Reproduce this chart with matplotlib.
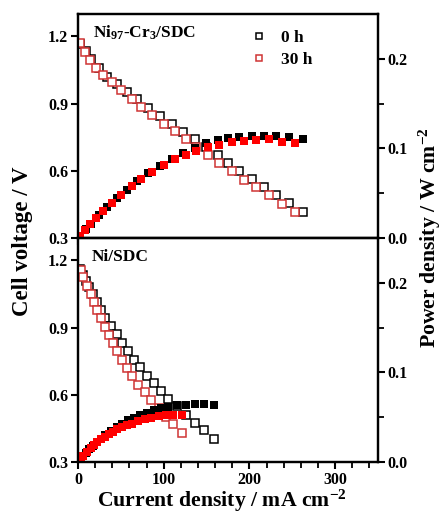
import matplotlib.pyplot as plt
import matplotlib.ticker as ticker

# Ni97-Cr3/SDC, 0 h
nicr_i_0h = [2.3, 9.3, 14.7, 24.0, 34.1, 45.7, 56.6, 69.0, 81.8, 95.3, 109.7, 122.4,
             136.0, 149.6, 163.1, 175.5, 188.0, 202.7, 216.7, 230.5, 246.5, 262.8]
nicr_v_0h = [1.168, 1.133, 1.098, 1.058, 1.020, 0.986, 0.953, 0.919, 0.881, 0.844, 0.807, 0.774,
             0.740, 0.705, 0.669, 0.633, 0.598, 0.563, 0.526, 0.493, 0.455, 0.418]
nicr_p_0h = [0.0027, 0.0105, 0.0161, 0.0254, 0.0348, 0.0451, 0.0539, 0.0634, 0.0721, 0.0804, 0.0885, 0.0947,
             0.1006, 0.1055, 0.1091, 0.1111, 0.1124, 0.1141, 0.1140, 0.1136, 0.1122, 0.1099]
# Ni97-Cr3/SDC, 30 h
nicr_i_30h = [2.3, 8.1, 14.3, 21.0, 29.5, 39.1, 49.6, 62.4, 74.0, 86.4, 100.0, 112.8,
              125.6, 138.0, 151.5, 164.3, 179.4, 193.4, 207.8, 223.3, 237.6, 253.1]
nicr_v_30h = [1.170, 1.130, 1.095, 1.060, 1.029, 0.995, 0.959, 0.922, 0.886, 0.849, 0.810, 0.777,
              0.741, 0.707, 0.671, 0.635, 0.597, 0.560, 0.526, 0.493, 0.452, 0.417]
nicr_p_30h = [0.0027, 0.0092, 0.0157, 0.0223, 0.0304, 0.0389, 0.0476, 0.0575, 0.0656, 0.0734, 0.0810, 0.0876,
              0.0931, 0.0976, 0.1017, 0.1043, 0.1071, 0.1083, 0.1093, 0.1101, 0.1074, 0.1055]

# Ni/SDC, 0 h
ni_i_0h = [2.5, 5.5, 9.5, 13.2, 17.5, 21.7, 26.5, 31.4, 38.0, 44.9, 50.8, 58.5, 65.1, 72.1,
           80.6, 88.4, 97.3, 105.0, 115.5, 125.6, 136.0, 146.5, 158.1]
ni_v_0h = [1.160, 1.135, 1.108, 1.083, 1.050, 1.014, 0.980, 0.944, 0.907, 0.872, 0.832, 0.795, 0.757, 0.724,
           0.685, 0.653, 0.615, 0.582, 0.551, 0.508, 0.474, 0.441, 0.404]
ni_p_0h = [0.0029, 0.0062, 0.0105, 0.0143, 0.0184, 0.0220, 0.0260, 0.0296, 0.0345, 0.0392, 0.0423, 0.0465,
           0.0493, 0.0522, 0.0552, 0.0577, 0.0598, 0.0611, 0.0636, 0.0638, 0.0645, 0.0646, 0.0639]
# Ni/SDC, 30 h
ni_i_30h = [3.1, 6.2, 10.1, 14.8, 18.6, 22.4, 26.7, 31.4, 36.4, 41.0, 45.7, 50.8, 56.6, 62.4,
            70.1, 77.9, 85.7, 94.5, 103.1, 110.8, 121.3]
ni_v_30h = [1.158, 1.124, 1.086, 1.049, 1.014, 0.978, 0.941, 0.904, 0.865, 0.829, 0.795, 0.757, 0.720, 0.683,
            0.645, 0.611, 0.575, 0.541, 0.503, 0.470, 0.431]
ni_p_30h = [0.0036, 0.0070, 0.0110, 0.0155, 0.0189, 0.0219, 0.0251, 0.0284, 0.0315, 0.0340, 0.0363, 0.0385,
            0.0408, 0.0426, 0.0452, 0.0476, 0.0493, 0.0511, 0.0519, 0.0521, 0.0523]

plt.rcParams['font.family'] = ['Liberation Serif', 'DejaVu Serif']
plt.rcParams['font.weight'] = 'bold'
plt.rcParams['mathtext.fontset'] = 'custom'
plt.rcParams['mathtext.rm'] = 'Liberation Serif:bold'
plt.rcParams['mathtext.it'] = 'Liberation Serif:bold'
plt.rcParams['mathtext.bf'] = 'Liberation Serif:bold'

red_open = '#d03434'
red_fill = '#ff0000'
ms = 6.2

fig = plt.figure(figsize=(4.46, 5.17), dpi=100)
left, width = 0.175, 0.6725
ax_top = fig.add_axes([left, 0.5397, width, 0.4333])
ax_bot = fig.add_axes([left, 0.1064, width, 0.4333])


def style(ax, ax2, bottom_labels):
    ax.set_xlim(0, 350)
    ax.set_ylim(0.3, 1.3)
    ax2.set_ylim(0, 0.25)
    ax.xaxis.set_major_locator(ticker.MultipleLocator(100))
    ax.xaxis.set_minor_locator(ticker.MultipleLocator(20))
    ax.yaxis.set_major_locator(ticker.FixedLocator([0.3, 0.6, 0.9, 1.2]))
    ax2.yaxis.set_major_locator(ticker.FixedLocator([0.0, 0.1, 0.2]))
    ax2.yaxis.set_minor_locator(ticker.FixedLocator([0.05, 0.15]))
    ax.yaxis.set_major_formatter(ticker.FormatStrFormatter('%.1f'))
    ax2.yaxis.set_major_formatter(ticker.FormatStrFormatter('%.1f'))
    for a in (ax, ax2):
        for s in a.spines.values():
            s.set_linewidth(1.6)
        a.tick_params(which='major', direction='out', length=5, width=1.5, labelsize=11.5, pad=2)
        a.tick_params(which='minor', direction='out', length=4, width=1.3)
    ax.tick_params(axis='x', which='both', top=False, labelbottom=bottom_labels)
    ax.tick_params(axis='y', which='both', right=False)
    for lab in ax.get_xticklabels() + ax.get_yticklabels() + ax2.get_yticklabels():
        lab.set_fontweight('bold')


# upper panel
ax2_top = ax_top.twinx()
ax_top.plot(nicr_i_0h, nicr_v_0h, 's', ms=ms, mfc='white', mec='black', mew=1.1, label='0 h', zorder=2)
ax_top.plot(nicr_i_30h, nicr_v_30h, 's', ms=ms, mfc='white', mec=red_open, mew=1.1, label='30 h', zorder=3)
ax2_top.plot(nicr_i_0h, nicr_p_0h, 's', ms=ms, color='black', mew=0)
ax2_top.plot(nicr_i_30h, nicr_p_30h, 's', ms=ms, color=red_fill, mew=0)
style(ax_top, ax2_top, False)
ax_top.text(0.05, 0.955, 'Ni$_{97}$-Cr$_{3}$/SDC', transform=ax_top.transAxes,
            fontsize=12.5, fontweight='bold', va='top', ha='left')
leg = ax_top.legend(loc='upper left', bbox_to_anchor=(0.515, 1.0), frameon=False,
                    prop={'size': 12.5, 'weight': 'bold'}, markerscale=0.7,
                    handletextpad=0.7, labelspacing=0.35, handlelength=1.2)

# lower panel
ax2_bot = ax_bot.twinx()
ax_bot.plot(ni_i_0h, ni_v_0h, 's', ms=ms, mfc='white', mec='black', mew=1.1, zorder=2)
ax_bot.plot(ni_i_30h, ni_v_30h, 's', ms=ms, mfc='white', mec=red_open, mew=1.1, zorder=3)
ax2_bot.plot(ni_i_0h, ni_p_0h, 's', ms=ms, color='black', mew=0)
ax2_bot.plot(ni_i_30h, ni_p_30h, 's', ms=ms, color=red_fill, mew=0)
style(ax_bot, ax2_bot, True)
ax_bot.text(0.045, 0.95, 'Ni/SDC', transform=ax_bot.transAxes,
            fontsize=12.5, fontweight='bold', va='top', ha='left')
ax_bot.set_xlabel('Current density / mA cm$^{-2}$', fontsize=15.7, fontweight='bold')
ax_bot.xaxis.set_label_coords(0.48, -0.115)

# shared axis titles
fig.text(0.05, 0.534, 'Cell voltage / V', rotation=90, fontsize=16.5, fontweight='bold',
         ha='center', va='center')
fig.text(0.965, 0.54, 'Power density / W cm$^{-2}$', rotation=90, fontsize=15.7, fontweight='bold',
         ha='center', va='center')

fig.savefig('out.png', dpi=100)
